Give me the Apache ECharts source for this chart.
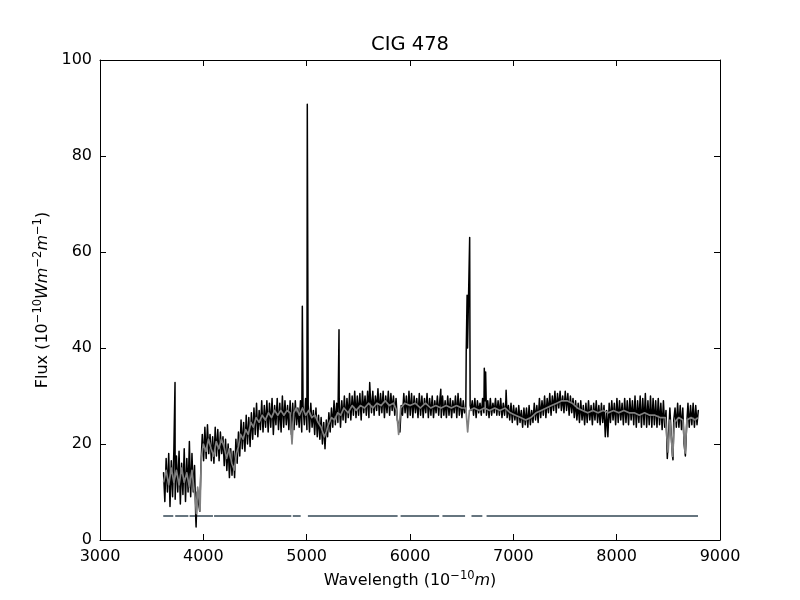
<!DOCTYPE html>
<html>
<head>
<meta charset="utf-8">
<script src="https://cdn.jsdelivr.net/npm/echarts@6/dist/echarts.min.js"></script>
<style>
html,body{margin:0;padding:0;background:#fff;}
#chart{width:800px;height:600px;}
</style>
</head>
<body>
<div id="chart"></div>
<script>
// ---- data ----
const chartTitle = 'CIG 478';
const xTicks = [3000, 4000, 5000, 6000, 7000, 8000, 9000];
const yTicks = [0, 20, 40, 60, 80, 100];

// observed spectrum (black): samples on a regular wavelength grid, one row per 250 Angstrom
const waveStart = 3615;   // Angstrom
const waveStep = 12.5;    // Angstrom
const observedFlux = [
  14, 8, 17, 10, 18, 7, 16.5, 9, 19, 8.5, 17.5, 10, 18.5, 7.5, 16, 9.5, 19, 8, 17, 10,
  20.5, 9, 18, 10, 15.5, 4, 10, 8, 6, 16, 22, 16.5, 23.5, 17, 24, 18, 22, 16.5, 21.5, 16,
  23.5, 17.5, 23, 16.5, 22.5, 18, 21.5, 15.5, 21, 14.5, 20, 13, 19, 13.5, 18.5, 13, 21, 16, 22.5, 17.5,
  25, 19, 24.5, 18.5, 26, 20, 25.5, 19.5, 26.5, 21, 27.5, 22, 28.5, 21.5, 27, 23, 29, 22.5, 28, 23.5,
  29, 22.5, 28.5, 23.5, 29.5, 22, 28, 24, 29.5, 23, 28.5, 22.5, 30, 23.5, 29, 24, 28, 23, 29, 22,
  28.5, 23, 29, 24, 27.5, 23.5, 29, 22.5, 28, 24, 29.5, 23, 28, 22.5, 28.5, 23.5, 27, 22, 27.5, 21.5,
  26, 21, 25.5, 20, 24.5, 19, 25, 21.5, 26.5, 22.5, 27.5, 23.5, 29, 24, 28.5, 24.5, 29.5, 23.5, 29, 25,
  30, 24.5, 29.5, 25.5, 30.5, 25, 30, 26, 31, 25.5, 30, 26, 30.5, 25, 31, 26.5, 30, 26, 31, 25.5,
  30.5, 26.5, 31, 26, 30, 27, 31.5, 26, 30.5, 26.5, 31, 25.5, 30, 26.5, 31, 26, 30.5, 27, 30, 26,
  29.5, 25, 24, 22.5, 28, 26, 30.5, 26.5, 30, 25.5, 31, 26, 30.5, 25.5, 30, 26.5, 29.5, 25.5, 30.5, 26,
  30, 25.5, 29.5, 26.5, 30.5, 25.5, 29.5, 26, 30, 25.5, 29, 26.5, 30, 26, 29.5, 25.5, 30, 26, 29, 25.5,
  30, 26, 29.5, 25.5, 29, 26.5, 30, 25.5, 30.5, 26, 29.5, 25.5, 29, 26.5, 27, 51, 40, 63, 27, 29,
  26, 29.5, 25.5, 29, 26.5, 28.5, 26, 29.5, 26.5, 29, 26, 29, 25.5, 29.5, 26, 28.5, 26.5, 29.5, 26, 29,
  26, 29.5, 25.5, 28.5, 26, 29, 25.5, 28, 25, 28.5, 24.5, 28, 25, 27.5, 24, 28, 24.5, 27, 23.5, 27.5,
  24, 27.5, 23.5, 28, 24, 27, 24.5, 28.5, 25, 28, 24.5, 29.5, 25.5, 29, 26, 30, 25.5, 29.5, 26.5, 30.5,
  26, 30, 27, 31, 26.5, 30.5, 27.5, 31, 27, 30, 26.5, 31, 27, 30.5, 26, 30, 26.5, 29.5, 25.5, 29,
  25, 28.5, 24.5, 29, 25, 28, 24, 28.5, 24.5, 29, 25, 28, 24, 28.5, 25, 29, 24.5, 28, 24, 28.5,
  24.5, 28, 21.5, 27, 21.5, 28.5, 24.5, 29, 25, 28.5, 24, 29.5, 24.5, 29, 25, 28.5, 24, 29.5, 24.5, 29,
  24, 29.5, 25, 29, 24, 30, 23.5, 29, 24.5, 30, 23.5, 29.5, 24, 30.5, 23.5, 29, 24, 30, 23.5, 29.5,
  24, 29, 23.5, 29.5, 24, 28.5, 23, 29, 23.5, 27, 17, 22, 27.5, 22, 17.5, 25, 27.5, 23.5, 28.5, 23.5,
  28, 23, 27.5, 20, 17.5, 24, 28.5, 23.5, 28, 24, 28.5, 23.5, 28, 24, 27
];

// narrow emission lines / deep absorption dips of the observed spectrum [wavelength, flux]
const observedLines = [
  [3726, 32.8], [3930, 2.7], [4958, 48.7], [5006, 90.8], [5313, 43.8],
  [5610, 32.8], [6298, 31.4], [6544, 39], [6548, 39], [6557, 40],
  [6570, 40], [6582, 28], [6719, 35.8], [6732, 35], [6930, 31.2],
  [8497, 16.7], [8545, 16.7]
];

// synthetic model spectrum (grey) [wavelength, flux]
const modelSpectrum = [
  [3615,12.0],[3640,14.5],[3665,11.5],[3690,15],[3715,12],[3740,14.5],[3765,11.5],[3790,15],
  [3815,12],[3840,14],[3865,11],[3890,14.5],[3910,10.5],[3925,8],[3933,5.5],[3945,11],
  [3958,9],[3968,6],[3980,17],[4000,20],[4025,18.5],[4050,21],[4075,19],[4100,17.5],
  [4125,20.5],[4150,19],[4175,21],[4200,19.5],[4225,17],[4250,19],[4275,16],[4300,14.6],
  [4320,18],[4340,19.5],[4360,22],[4385,21],[4410,23],[4435,22],[4460,24.5],[4485,23.5],
  [4510,25.5],[4540,24.5],[4570,26],[4600,25],[4630,26.5],[4660,25.5],[4690,27],[4720,26],
  [4750,27],[4780,26],[4810,27],[4840,26.5],[4858,20],[4875,26.5],[4900,27.5],[4930,26],
  [4960,27.5],[4990,26],[5020,27],[5050,25.5],[5080,26],[5110,24.5],[5140,23.5],[5170,21.5],
  [5190,22.5],[5210,24],[5240,25.5],[5270,25],[5300,26.5],[5330,26],[5360,27.5],[5400,26.5],
  [5440,28],[5480,27],[5520,28],[5560,27.5],[5600,28.5],[5640,27.5],[5680,28.5],[5720,28],
  [5760,29],[5800,28],[5840,28.5],[5870,27],[5890,22],[5910,27.5],[5950,28.5],[6000,28],
  [6050,28.5],[6100,27.5],[6150,28.5],[6200,27.5],[6250,28],[6300,27.5],[6350,28],[6400,27.5],
  [6450,28],[6500,27.5],[6540,27.5],[6558,22.5],[6575,27],[6620,27.5],[6670,27],[6720,27.5],
  [6770,27],[6820,27.5],[6870,27],[6920,27.5],[6970,26.5],[7020,26],[7070,25.5],[7120,25],
  [7170,25.5],[7220,26.5],[7270,27],[7320,27.5],[7370,28],[7420,28.5],[7470,29],[7520,29],
  [7570,28.5],[7620,27.5],[7670,27],[7720,26.5],[7770,27],[7820,26.5],[7870,27],[7920,26.5],
  [7970,27],[8020,26.5],[8070,27],[8120,26.5],[8170,26.5],[8220,26],[8270,26.5],[8320,26],
  [8370,26],[8420,25.5],[8470,25.5],[8498,18.3],[8515,25],[8542,17.4],[8560,24.5],[8600,25.5],
  [8640,25],[8662,18.1],[8680,25],[8720,25.5],[8760,25],[8785,25.5]
];

// masked-region indicator: wavelength ranges drawn at a constant flux level
const maskLevel = 5;
const maskSegments = [
  [3612,3709],[3728,3855],[3867,4093],[4104,4851],[4866,4942],
  [5012,5880],[5909,6282],[6314,6533],[6595,6700],[6741,8787]
];

// ---- build series data ----
const observedData = observedFlux.map((v, i) => [waveStart + i * waveStep, v])
  .concat(observedLines)
  .sort((a, b) => a[0] - b[0]);

const maskData = [];
maskSegments.forEach(seg => {
  maskData.push([seg[0], maskLevel]);
  maskData.push([seg[1], maskLevel]);
  maskData.push([seg[1] + 1, '-']);
});

const FONT = 'DejaVu Sans';
const axisCommon = {
  type: 'value',
  splitLine: { show: false },
  axisLine: { show: true, onZero: false, lineStyle: { color: '#000', width: 1 } },
  axisTick: { show: true, inside: true, length: 6, lineStyle: { color: '#000', width: 1 } },
};
const rich = {
  m: { fontFamily: FONT, fontSize: 16, color: '#000' },
  mi: { fontFamily: FONT, fontSize: 16, fontStyle: 'italic', color: '#000' },
  sup: { fontFamily: FONT, fontSize: 11.5, color: '#000', padding: [0, 0, 10, 0] }
};

const chart = echarts.init(document.getElementById('chart'), null, { renderer: 'canvas' });
chart.setOption({
  animation: false,
  backgroundColor: '#fff',
  title: {
    text: chartTitle,
    left: 410,
    textAlign: 'center',
    top: 35,
    padding: 0,
    textStyle: { fontFamily: FONT, fontSize: 19.5, fontWeight: 'normal', color: '#000' }
  },
  grid: { left: 100, right: 80, top: 60, bottom: 60, containLabel: false },
  xAxis: [
    Object.assign({}, axisCommon, {
      position: 'bottom',
      min: xTicks[0], max: xTicks[xTicks.length - 1], interval: 1000,
      axisLabel: { color: '#000', fontFamily: FONT, fontSize: 16, margin: 9, formatter: v => String(v) },
      name: 'Wavelength {m|(10}{sup|−10}{mi|m}{m|)}',
      nameLocation: 'middle',
      nameGap: 27,
      nameTextStyle: { fontFamily: FONT, fontSize: 16, color: '#000', rich: rich }
    }),
    Object.assign({}, axisCommon, {
      position: 'top',
      min: xTicks[0], max: xTicks[xTicks.length - 1], interval: 1000,
      axisLabel: { show: false }
    })
  ],
  yAxis: [
    Object.assign({}, axisCommon, {
      position: 'left',
      min: yTicks[0], max: yTicks[yTicks.length - 1], interval: 20,
      axisLabel: { color: '#000', fontFamily: FONT, fontSize: 16, margin: 8, formatter: v => String(v) },
      name: 'Flux {m|(10}{sup|−10}{mi|Wm}{sup|−2}{mi|m}{sup|−1}{m|)}',
      nameLocation: 'middle',
      nameRotate: 90,
      nameGap: 46,
      nameTextStyle: { fontFamily: FONT, fontSize: 16, color: '#000', rich: rich }
    }),
    Object.assign({}, axisCommon, {
      position: 'right',
      min: yTicks[0], max: yTicks[yTicks.length - 1], interval: 20,
      axisLabel: { show: false }
    })
  ],
  series: [
    {
      type: 'line', name: 'observed', xAxisIndex: 0, yAxisIndex: 0,
      data: observedData, showSymbol: false, symbol: 'none',
      lineStyle: { color: '#000', width: 1.5, join: 'round', cap: 'round' }, z: 2
    },
    {
      type: 'line', name: 'model', xAxisIndex: 0, yAxisIndex: 0,
      data: modelSpectrum, showSymbol: false, symbol: 'none',
      lineStyle: { color: '#808080', width: 1.7, join: 'round' }, z: 3
    },
    {
      type: 'line', name: 'mask', xAxisIndex: 0, yAxisIndex: 0,
      data: maskData, showSymbol: false, symbol: 'none', connectNulls: false,
      lineStyle: { color: '#66757f', width: 2 }, z: 1
    }
  ]
});
</script>
</body>
</html>
